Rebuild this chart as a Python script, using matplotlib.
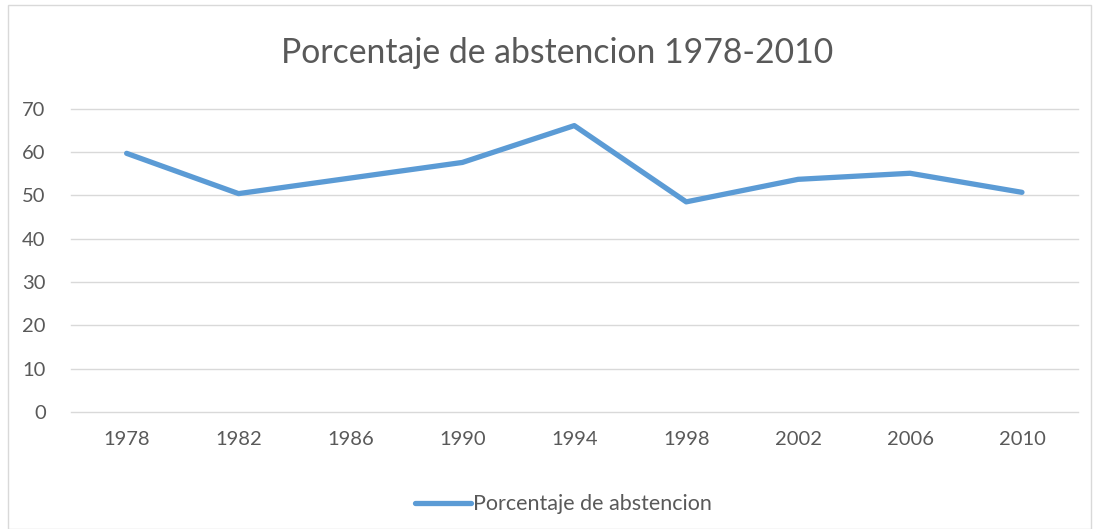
import matplotlib.pyplot as plt
from matplotlib.patches import Rectangle

years = ["1978", "1982", "1986", "1990", "1994", "1998", "2002", "2006", "2010"]
abstencion = [59.7, 50.4, 54.0, 57.6, 66.1, 48.5, 53.7, 55.1, 50.7]
y_ticks = [0, 10, 20, 30, 40, 50, 60, 70]

plt.rcParams["font.family"] = ["Lato", "DejaVu Sans"]
text_color = "#595959"
line_color = "#5B9BD5"

fig = plt.figure(figsize=(10.94, 5.29), dpi=100)
fig.patches.append(Rectangle((0.007, 0.0), 0.99, 0.99, transform=fig.transFigure,
                             fill=False, edgecolor="#D9D9D9", linewidth=1))

ax = fig.add_axes([0.0646, 0.2212, 0.9207, 0.5733])
x = range(len(years))
ax.plot(x, abstencion, color=line_color, linewidth=3.8, solid_capstyle="round",
        label="Porcentaje de abstencion")

ax.set_xlim(-0.5, len(years) - 0.5)
ax.set_ylim(0, 70)
ax.set_yticks(y_ticks)
ax.set_xticks(list(x))
ax.set_xticklabels(years)
ax.grid(axis="y", color="#D9D9D9", linewidth=1)
for gl in ax.get_ygridlines():
    gl.set_clip_on(False)
ax.set_axisbelow(True)
for s in ax.spines.values():
    s.set_visible(False)
ax.tick_params(length=0, labelsize=14.5, colors=text_color, pad=14)
ax.tick_params(axis="y", pad=18)

fig.text(0.509, 0.9, "Porcentaje de abstencion 1978-2010", ha="center", va="center",
         fontsize=24.3, color=text_color)

fig.legend(*ax.get_legend_handles_labels(), loc="center", bbox_to_anchor=(0.515, 0.047),
           frameon=False, fontsize=15.5, labelcolor=text_color,
           handlelength=2.6, handletextpad=0.1)

fig.savefig("out.png", dpi=100)
